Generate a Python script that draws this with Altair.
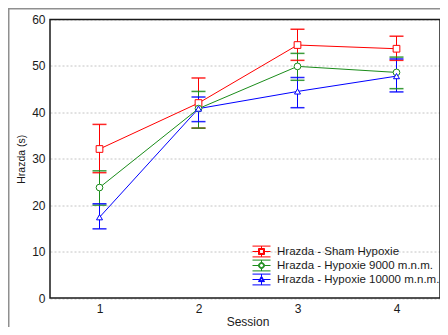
import altair as alt
import pandas as pd

sessions = [1, 2, 3, 4]
series_names = ["Hrazda - Sham Hypoxie", "Hrazda - Hypoxie 9000 m.n.m.", "Hrazda - Hypoxie 10000 m.n.m."]

sham_mean = [32.1, 42.0, 54.5, 53.7]
sham_hi = [37.4, 47.4, 57.9, 56.4]
sham_lo = [27.0, 36.6, 51.2, 51.2]

h9000_mean = [23.8, 40.8, 49.9, 48.6]
h9000_hi = [27.4, 44.5, 52.7, 51.9]
h9000_lo = [20.0, 36.6, 46.9, 45.1]

h10000_mean = [17.4, 40.8, 44.5, 47.8]
h10000_hi = [20.3, 43.3, 47.5, 51.5]
h10000_lo = [14.9, 38.0, 41.0, 44.4]

y_ticks = [0, 10, 20, 30, 40, 50, 60]

colors = ["#ff0000", "#1a8c1a", "#0000ff"]
marker_shapes = ["square", "circle", "triangle-up"]
marker_sizes = [45, 45, 36]

# legend icons: error-bar glyph with a hollow (ring) marker in the middle
bar_glyph = "M-1.5,-0.9H1.5M-1.5,0.9H1.5M-1.5,0H-0.5M0.5,0H1.5M0,-0.9V-0.5M0,0.5V0.9"
legend_paths = [
    bar_glyph + "M-0.5,-0.5H0.5V0.5H-0.5ZM-0.33,-0.33V0.33H0.33V-0.33Z",
    bar_glyph + "M0.5,0A0.5,0.5 0 1,1 -0.5,0A0.5,0.5 0 1,1 0.5,0Z"
                "M0.33,0A0.33,0.33 0 1,0 -0.33,0A0.33,0.33 0 1,0 0.33,0Z",
    "M-1.5,-0.9H1.5M-1.5,0.9H1.5M-1.5,0H-0.35M0.35,0H1.5M0,-0.9V-0.55M0,0.35V0.9"
    "M0,-0.55L0.5,0.35L-0.5,0.35ZM0,-0.25L-0.25,0.2L0.25,0.2Z",
]

rows = []
for name, means, his, los in zip(
    series_names,
    [sham_mean, h9000_mean, h10000_mean],
    [sham_hi, h9000_hi, h10000_hi],
    [sham_lo, h9000_lo, h10000_lo],
):
    for s, m, h, l in zip(sessions, means, his, los):
        rows.append(dict(series=name, session=s, mean=m, hi=h, lo=l))
df = pd.DataFrame(rows)

W, H = 390, 278.5

x_scale = alt.Scale(domain=[0.5, 0.5 + W / 99.0], nice=False, zero=False)
y_scale = alt.Scale(domain=[0, 60], nice=False)
x_axis = alt.Axis(title="Session", values=sessions, format="d", grid=False, ticks=False,
                  domain=False, labelPadding=5, titlePadding=2, titleX=197.5)
y_axis = alt.Axis(title="Hrazda (s)", values=y_ticks, grid=True, gridDash=[2, 2],
                  gridColor="#c4c4c4", ticks=False, domain=False, labelPadding=5,
                  titlePadding=5, titleFontSize=10.5)
color_scale = alt.Scale(domain=series_names, range=colors)

X = alt.X("session:Q", scale=x_scale, axis=x_axis)
C = alt.Color("series:N", scale=color_scale, legend=None)

base = alt.Chart(df)

lines = base.mark_line(strokeWidth=1).encode(
    x=X, y=alt.Y("mean:Q", scale=y_scale, axis=y_axis), color=C, order="session:Q"
)
bars = base.mark_rule(strokeWidth=1).encode(
    x=X, y=alt.Y("lo:Q", scale=y_scale, axis=y_axis), y2="hi:Q", color=C
)
caps_lo = base.mark_tick(orient="horizontal", size=14, thickness=1.5, opacity=0.85).encode(
    x=X, y=alt.Y("lo:Q", scale=y_scale, axis=y_axis), color=C
)
caps_hi = base.mark_tick(orient="horizontal", size=14, thickness=1.5, opacity=0.85).encode(
    x=X, y=alt.Y("hi:Q", scale=y_scale, axis=y_axis), color=C
)

point_layers = []
for name, shp, sz in zip(series_names, marker_shapes, marker_sizes):
    point_layers.append(
        base.transform_filter(alt.datum.series == name)
        .mark_point(shape=shp, filled=False, fill="white", size=sz, strokeWidth=1, opacity=1)
        .encode(x=X, y=alt.Y("mean:Q", scale=y_scale, axis=y_axis), color=C)
    )

legend_props = dict(
    title=None, orient="none", legendX=205, legendY=225.5, symbolSize=144,
    symbolStrokeWidth=1, symbolFillColor="white", labelFont="Liberation Sans",
    labelFontSize=11.5, labelColor="#1a1a1a", labelOffset=9, rowPadding=-7,
    padding=0, labelLimit=400,
)

legend_df = pd.DataFrame({"series": series_names})
legend_layer = alt.Chart(legend_df).mark_point(
    filled=False, fill="white", clip=True, strokeWidth=1, opacity=1
).encode(
    x=alt.value(-500),
    y=alt.value(-500),
    color=alt.Color("series:N", scale=color_scale, legend=alt.Legend(**legend_props)),
    shape=alt.Shape("series:N", scale=alt.Scale(domain=series_names, range=legend_paths),
                    legend=alt.Legend(**legend_props)),
)

one = pd.DataFrame({"k": [0]})
frame = alt.Chart(one).mark_rect(
    fillOpacity=0, stroke="#8f8f8f", strokeWidth=1.5, clip=False
).encode(
    x=alt.value(-41.25), x2=alt.value(W + 5), y=alt.value(-10.75), y2=alt.value(400)
)
border = alt.Chart(one).mark_rect(
    fillOpacity=0, stroke="#1a1a1a", strokeWidth=1.5, clip=False
).encode(
    x=alt.value(0), x2=alt.value(W), y=alt.value(0), y2=alt.value(H)
)

chart = alt.layer(
    legend_layer, frame, lines, bars, caps_lo, caps_hi, *point_layers, border
).properties(
    width=W,
    height=H,
    autosize=alt.AutoSizeParams(type="none"),
    padding={"left": 42, "top": 11.5, "right": 0, "bottom": 29},
).configure(
    font="Liberation Sans"
).configure_view(
    stroke=None
).configure_axis(
    labelFont="Liberation Sans", labelFontSize=12, labelColor="#1a1a1a",
    titleFont="Liberation Sans", titleFontSize=12, titleColor="#1a1a1a", titleFontWeight="normal"
)

chart.save("out.html", embed_options={"renderer": "svg", "actions": False})
